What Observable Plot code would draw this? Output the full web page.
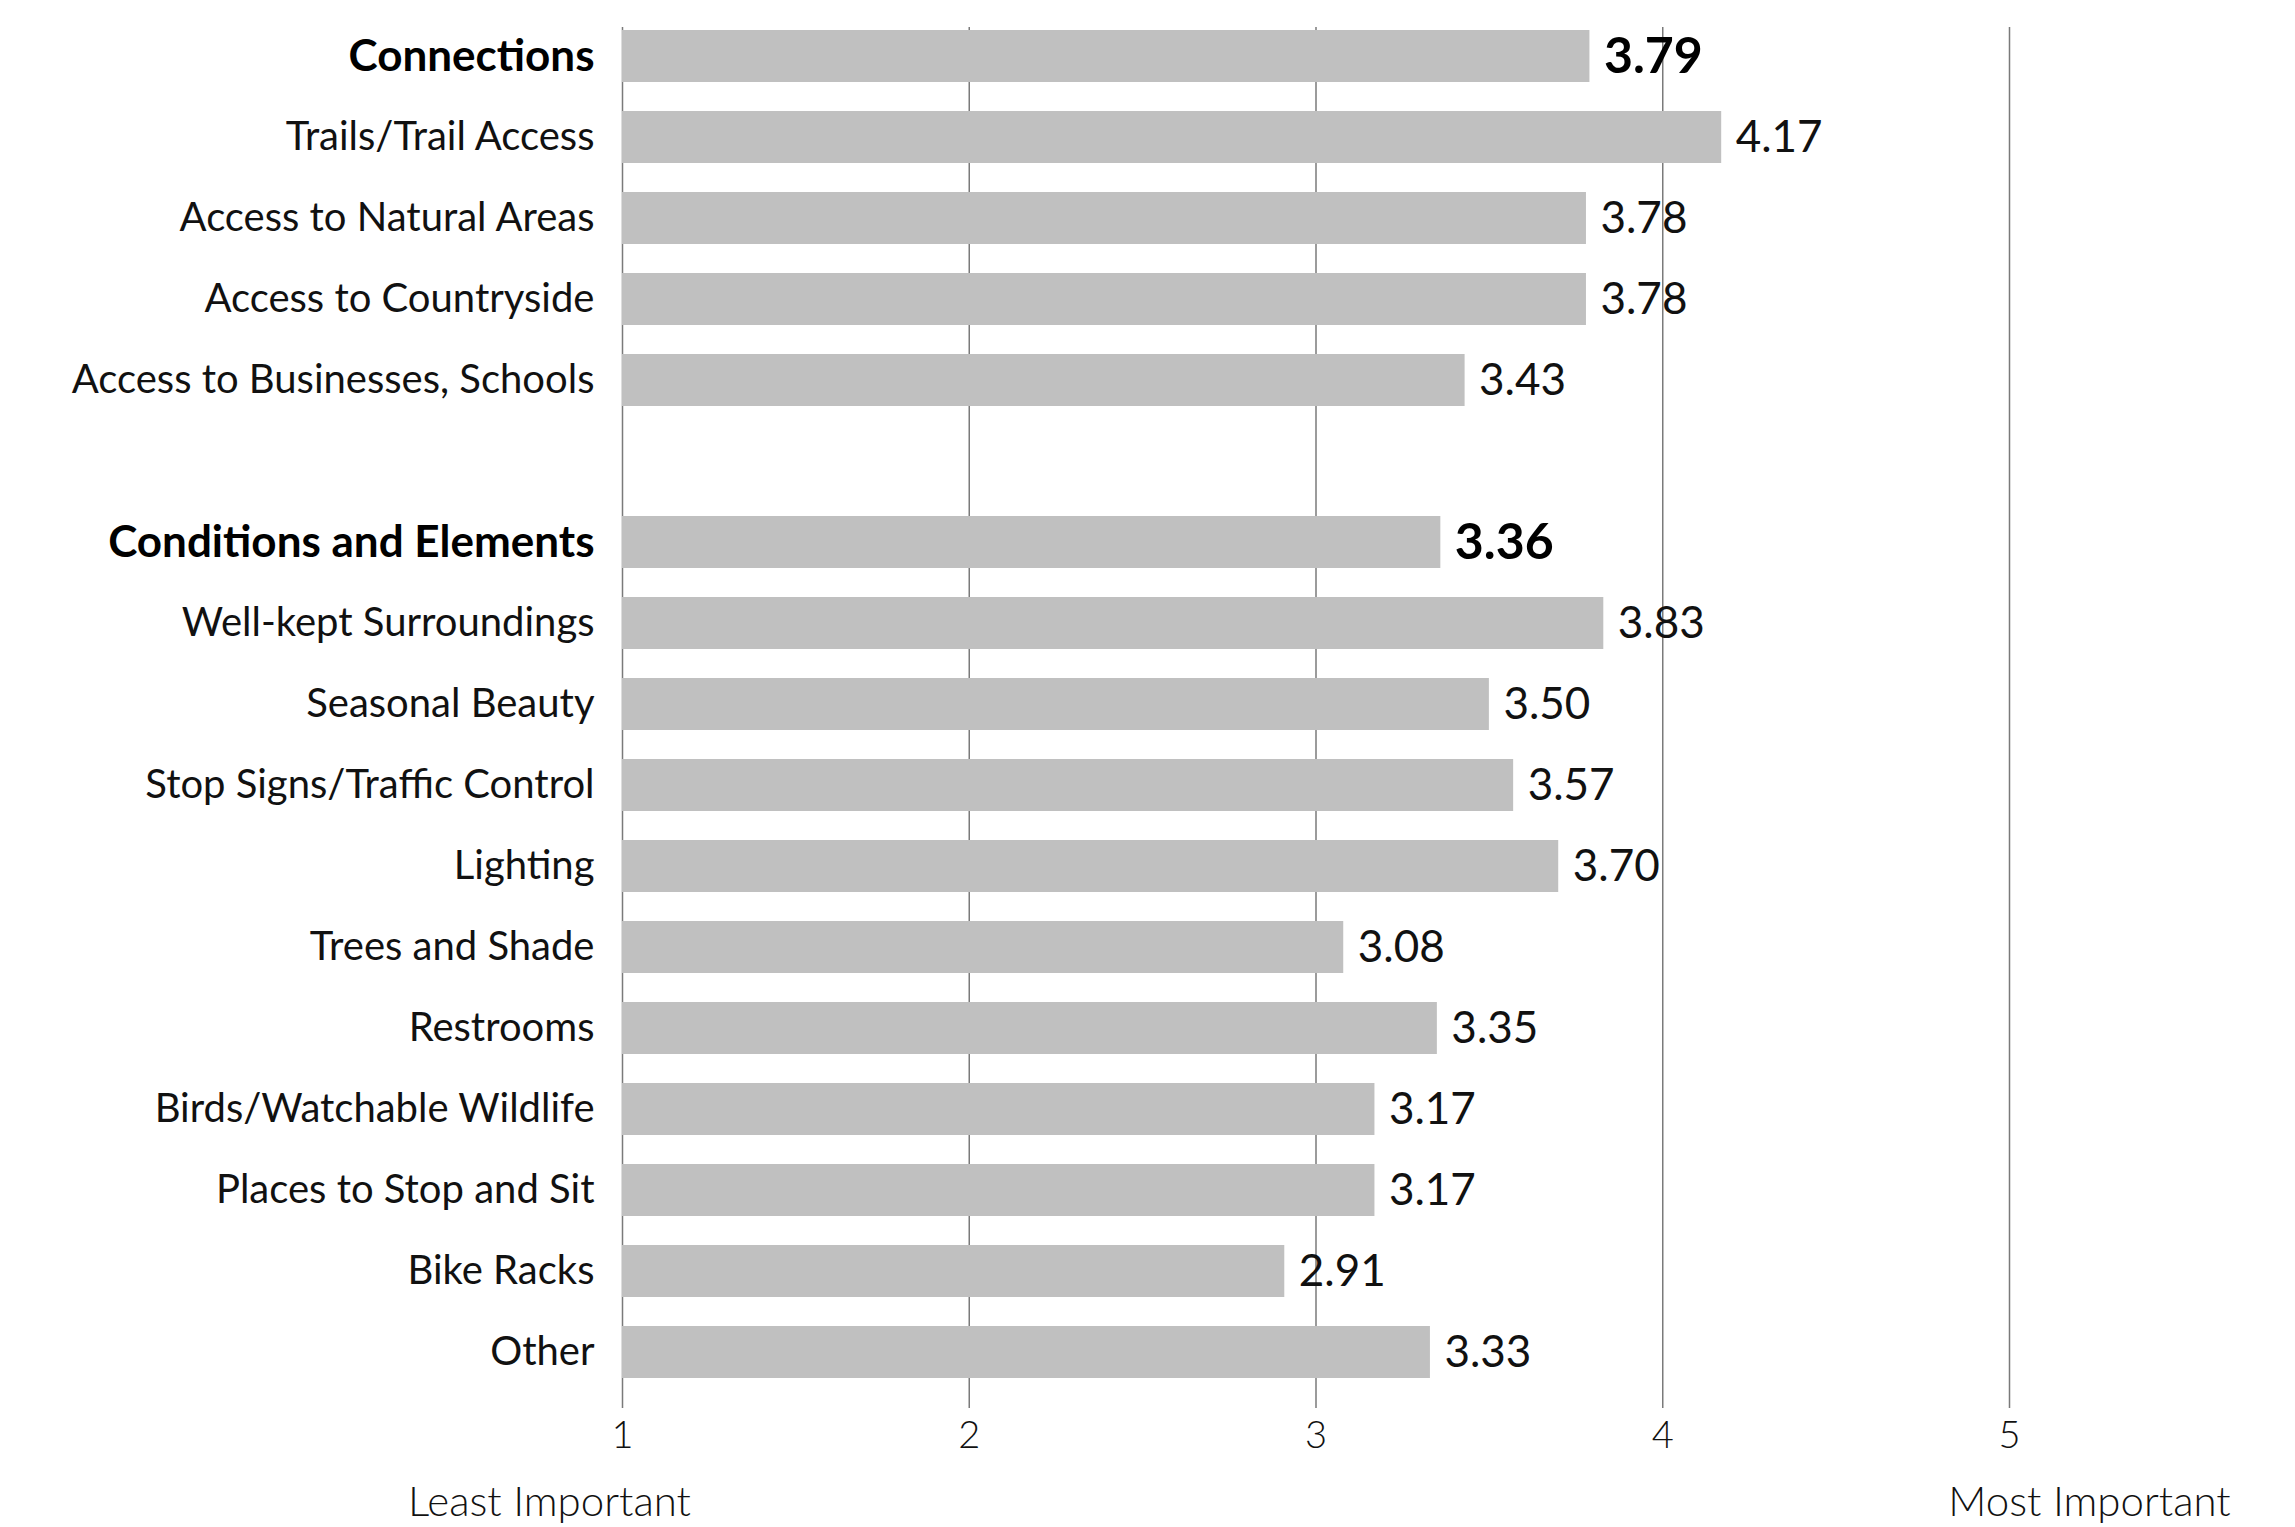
<!DOCTYPE html>
<html>
<head>
<meta charset="utf-8">
<script src="https://cdn.jsdelivr.net/npm/d3@7"></script>
<script src="https://cdn.jsdelivr.net/npm/@observablehq/plot@0.6"></script>
<style>
  html, body { margin: 0; padding: 0; background: #fff; overflow: hidden; }
  #chart svg { display: block; font-family: Lato, "Noto Sans", sans-serif; }
</style>
</head>
<body>
<div id="chart"></div>
<script>
// ---- data ----
const categories = [
  "Connections",
  "Trails/Trail Access",
  "Access to Natural Areas",
  "Access to Countryside",
  "Access to Businesses, Schools",
  " ",
  "Conditions and Elements",
  "Well-kept Surroundings",
  "Seasonal Beauty",
  "Stop Signs/Traffic Control",
  "Lighting",
  "Trees and Shade",
  "Restrooms",
  "Birds/Watchable Wildlife",
  "Places to Stop and Sit",
  "Bike Racks",
  "Other"
];
const values = [3.79, 4.17, 3.78, 3.78, 3.43, null, 3.36, 3.83, 3.50, 3.57, 3.70, 3.08, 3.35, 3.17, 3.17, 2.91, 3.33];
const headers = ["Connections", "Conditions and Elements"];
const ticks = [1, 2, 3, 4, 5];
const scaleLabels = ["Least Important", "Most Important"];

// ---- table ----
const rows = categories.map((c, i) => ({category: c, value: values[i], header: headers.includes(c)}))
  .filter(d => d.value != null);
const scaleMin = ticks[0];
const scaleMax = ticks[ticks.length - 1];

const chart = Plot.plot({
  width: 2295,
  height: 1527,
  marginTop: 27,
  marginBottom: 119,
  marginLeft: 622,
  marginRight: 286,
  style: {fontFamily: "Lato, 'Noto Sans', sans-serif", color: "#111", background: "#fff"},
  x: {domain: [scaleMin, scaleMax], axis: null, label: null},
  y: {domain: categories, range: [27, 1381], paddingInner: 0.36, paddingOuter: 0, axis: null, label: null},
  marks: [
    Plot.gridX(ticks, {stroke: "#7a7a7a", strokeOpacity: 1, strokeWidth: 1.5}),
    Plot.barX(rows, {x1: () => scaleMin, x2: "value", y: "category", fill: "#c0c0c0"}),
    Plot.axisX(ticks, {label: null, tickSize: 0, tickPadding: 13, fontSize: 38, fontWeight: 300, fill: "#111", tickFormat: d => String(d)}),
    Plot.text(rows.filter(d => !d.header), {x: () => scaleMin, y: "category", text: "category", textAnchor: "end", dx: -28, fontSize: 40, fontWeight: 400, fill: "#111"}),
    Plot.text(rows.filter(d => d.header), {x: () => scaleMin, y: "category", text: "category", textAnchor: "end", dx: -28, fontSize: 44, fontWeight: 700, fill: "#000"}),
    Plot.text(rows.filter(d => !d.header), {x: "value", y: "category", text: d => d.value.toFixed(2), textAnchor: "start", dx: 14, fontSize: 44, fontWeight: 400, fill: "#111"}),
    Plot.text(rows.filter(d => d.header), {x: "value", y: "category", text: d => d.value.toFixed(2), textAnchor: "start", dx: 14, fontSize: 50, fontWeight: 700, fill: "#000"}),
    Plot.text([scaleLabels[0]], {x: () => scaleMin, text: d => d, frameAnchor: "bottom", lineAnchor: "bottom", dy: 107, dx: -73, fontSize: 42, fontWeight: 300, fill: "#111"}),
    Plot.text([scaleLabels[1]], {x: () => scaleMax, text: d => d, frameAnchor: "bottom", lineAnchor: "bottom", dy: 107, dx: 80, fontSize: 42, fontWeight: 300, fill: "#111"})
  ]
});
document.getElementById("chart").append(chart);
</script>
</body>
</html>
